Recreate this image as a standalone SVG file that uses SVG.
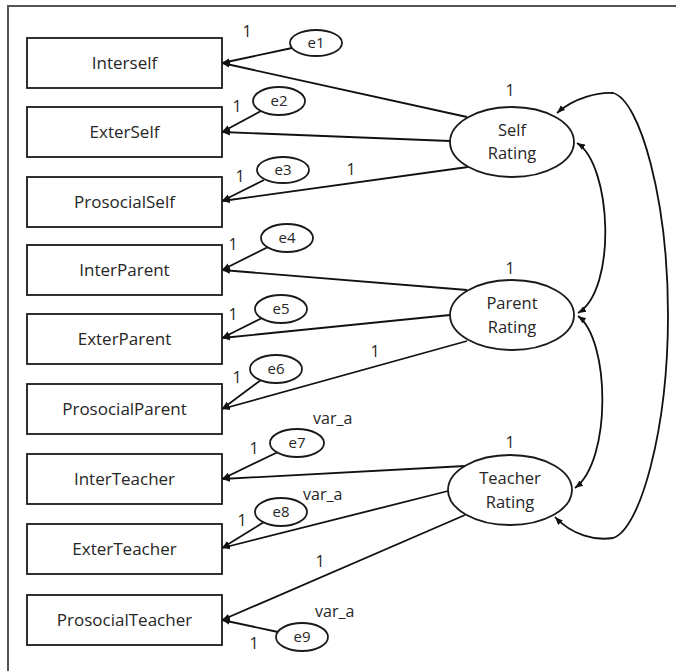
<svg xmlns="http://www.w3.org/2000/svg" width="676" height="671" viewBox="0 0 676 671">
<defs>
<marker id="ah" viewBox="0 0 10 10" refX="10" refY="5" markerWidth="8" markerHeight="8" markerUnits="userSpaceOnUse" orient="auto-start-reverse">
<path d="M0,1 L10,5 L0,9 Z" fill="#111"/>
</marker>
</defs>
<style>
.box{fill:#fff;stroke:#1a1a1a;stroke-width:1.8}
.ell{fill:#fff;stroke:#1a1a1a;stroke-width:1.8}
.ln{fill:none;stroke:#111;stroke-width:1.8}
.bt{font-family:"Open Sans","Liberation Sans",sans-serif;font-size:17px;fill:#262626;text-anchor:middle}
.lt{font-family:"Open Sans","Liberation Sans",sans-serif;font-size:16.5px;fill:#262626;text-anchor:middle}
.et{font-family:"Open Sans","Liberation Sans",sans-serif;font-size:15px;fill:#262626;text-anchor:middle}
.lb{font-family:"Open Sans","Liberation Sans",sans-serif;font-size:16px;fill:#262626;text-anchor:middle}
.va{font-family:"Open Sans","Liberation Sans",sans-serif;font-size:16px;fill:#262626}
</style>
<rect width="676" height="671" fill="#fff"/>
<g id="frame">
<path d="M8,671 L8,6 L676,6" fill="none" stroke="#555" stroke-width="2"/>
</g>

<g id="connectors">
<line class="ln" x1="467" y1="117" x2="222" y2="63" marker-end="url(#ah)"/>
<line class="ln" x1="450" y1="141" x2="222" y2="132" marker-end="url(#ah)"/>
<line class="ln" x1="468" y1="167" x2="222" y2="201" marker-end="url(#ah)"/>
<line class="ln" x1="467" y1="290" x2="222" y2="270" marker-end="url(#ah)"/>
<line class="ln" x1="450" y1="315" x2="222" y2="338" marker-end="url(#ah)"/>
<line class="ln" x1="467" y1="341" x2="222" y2="409" marker-end="url(#ah)"/>
<line class="ln" x1="465" y1="466" x2="222" y2="479" marker-end="url(#ah)"/>
<line class="ln" x1="448" y1="491" x2="222" y2="548" marker-end="url(#ah)"/>
<line class="ln" x1="465" y1="515" x2="222" y2="620" marker-end="url(#ah)"/>
<line class="ln" x1="292" y1="48" x2="222" y2="63" marker-end="url(#ah)"/>
<line class="ln" x1="261" y1="111" x2="222" y2="132" marker-end="url(#ah)"/>
<line class="ln" x1="264" y1="180" x2="222" y2="201" marker-end="url(#ah)"/>
<line class="ln" x1="268" y1="247" x2="222" y2="270" marker-end="url(#ah)"/>
<line class="ln" x1="262" y1="318" x2="222" y2="338" marker-end="url(#ah)"/>
<line class="ln" x1="261" y1="380" x2="222" y2="409" marker-end="url(#ah)"/>
<line class="ln" x1="278" y1="452" x2="222" y2="479" marker-end="url(#ah)"/>
<line class="ln" x1="264" y1="522" x2="222" y2="548" marker-end="url(#ah)"/>
<line class="ln" x1="278" y1="632" x2="222" y2="620" marker-end="url(#ah)"/>
<path class="ln" d="M577,143 C612,165 617,290 578,313" marker-start="url(#ah)" marker-end="url(#ah)"/>
<path class="ln" d="M578,316 C610,340 612,460 575,488" marker-start="url(#ah)" marker-end="url(#ah)"/>
<path class="ln" d="M557,113 C575,97 600,92 613,93 C640,100 668,200 668,315 C668,430 640,530 613,538 C595,541 572,535 555,517" marker-start="url(#ah)" marker-end="url(#ah)"/>
</g>

<g id="Interself"><rect class="box" x="27" y="38" width="195" height="50"/><text class="bt" x="124.5" y="69">Interself</text></g>
<g id="ExterSelf"><rect class="box" x="27" y="107" width="195" height="50"/><text class="bt" x="124.5" y="138">ExterSelf</text></g>
<g id="ProsocialSelf"><rect class="box" x="27" y="177" width="195" height="50"/><text class="bt" x="124.5" y="208">ProsocialSelf</text></g>
<g id="InterParent"><rect class="box" x="27" y="245" width="195" height="50"/><text class="bt" x="124.5" y="276">InterParent</text></g>
<g id="ExterParent"><rect class="box" x="27" y="314" width="195" height="50"/><text class="bt" x="124.5" y="345">ExterParent</text></g>
<g id="ProsocialParent"><rect class="box" x="27" y="384" width="195" height="50"/><text class="bt" x="124.5" y="415">ProsocialParent</text></g>
<g id="InterTeacher"><rect class="box" x="27" y="454" width="195" height="50"/><text class="bt" x="124.5" y="485">InterTeacher</text></g>
<g id="ExterTeacher"><rect class="box" x="27" y="524" width="195" height="50"/><text class="bt" x="124.5" y="555">ExterTeacher</text></g>
<g id="ProsocialTeacher"><rect class="box" x="27" y="595" width="195" height="50"/><text class="bt" x="124.5" y="626">ProsocialTeacher</text></g>

<g id="SelfRating"><ellipse class="ell" cx="512" cy="142" rx="62" ry="35"/><text class="lt" x="512" y="136">Self</text><text class="lt" x="512" y="159">Rating</text><text class="lb" x="510" y="96">1</text></g>
<g id="ParentRating"><ellipse class="ell" cx="512" cy="315" rx="62" ry="35"/><text class="lt" x="512" y="309">Parent</text><text class="lt" x="512" y="333">Rating</text><text class="lb" x="510" y="274">1</text></g>
<g id="TeacherRating"><ellipse class="ell" cx="510" cy="490" rx="62" ry="35"/><text class="lt" x="510" y="484">Teacher</text><text class="lt" x="510" y="508">Rating</text><text class="lb" x="510" y="448">1</text></g>

<g id="e1"><ellipse class="ell" cx="316" cy="43" rx="26" ry="13"/><text class="et" x="316" y="48">e1</text></g>
<g id="e2"><ellipse class="ell" cx="279" cy="101" rx="26" ry="14"/><text class="et" x="279" y="106">e2</text></g>
<g id="e3"><ellipse class="ell" cx="283" cy="170" rx="26" ry="13"/><text class="et" x="283" y="175">e3</text></g>
<g id="e4"><ellipse class="ell" cx="287" cy="238" rx="26" ry="14"/><text class="et" x="287" y="243">e4</text></g>
<g id="e5"><ellipse class="ell" cx="281" cy="309" rx="26" ry="14"/><text class="et" x="281" y="314">e5</text></g>
<g id="e6"><ellipse class="ell" cx="276" cy="369" rx="26" ry="14"/><text class="et" x="276" y="374">e6</text></g>
<g id="e7"><ellipse class="ell" cx="297" cy="443" rx="27" ry="14"/><text class="et" x="297" y="448">e7</text><text class="va" x="313" y="424">var_a</text></g>
<g id="e8"><ellipse class="ell" cx="281" cy="512" rx="26" ry="14"/><text class="et" x="281" y="517">e8</text><text class="va" x="303" y="500">var_a</text></g>
<g id="e9"><ellipse class="ell" cx="302" cy="637" rx="26" ry="14"/><text class="et" x="302" y="642">e9</text><text class="va" x="315" y="617">var_a</text></g>

<g id="labels">
<text class="lb" x="247" y="37">1</text>
<text class="lb" x="237" y="112">1</text>
<text class="lb" x="240" y="182">1</text>
<text class="lb" x="233" y="250">1</text>
<text class="lb" x="233" y="320">1</text>
<text class="lb" x="237" y="383">1</text>
<text class="lb" x="254" y="454">1</text>
<text class="lb" x="242" y="526">1</text>
<text class="lb" x="254" y="649">1</text>
<text class="lb" x="351" y="175">1</text>
<text class="lb" x="375" y="357">1</text>
<text class="lb" x="320" y="567">1</text>
</g>
</svg>
